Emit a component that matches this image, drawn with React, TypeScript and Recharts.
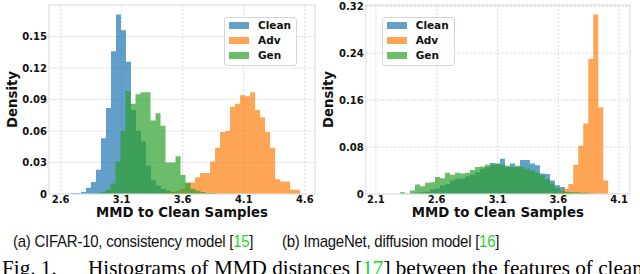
import React from 'react';
import { ComposedChart, Area, XAxis, YAxis, CartesianGrid, Legend, ReferenceArea } from 'recharts';

// ---------- (a) CIFAR-10, consistency model ----------
const cifarBinWidth = 0.041;
const cifarCleanStart = 2.684;
const cifarClean = [0.001, 0.001, 0.002, 0.006, 0.0115, 0.023, 0.053, 0.082, 0.136, 0.171, 0.156, 0.126, 0.08, 0.06, 0.05, 0.027, 0.013, 0.008, 0.005, 0.003, 0.002, 0.001, 0.001];
const cifarAdvStart = 3.414;
const cifarAdv = [0.001, 0.002, 0.002, 0.003, 0.005, 0.01, 0.011, 0.016, 0.02, 0.02, 0.031, 0.044, 0.059, 0.06, 0.083, 0.086, 0.094, 0.093, 0.097, 0.08, 0.073, 0.059, 0.044, 0.014, 0.012, 0.012, 0.004, 0.004];
const cifarGenStart = 2.885;
const cifarGen = [0.001, 0.002, 0.004, 0.01, 0.031, 0.06, 0.098, 0.086, 0.095, 0.097, 0.097, 0.07, 0.077, 0.065, 0.03, 0.03, 0.036, 0.018, 0.011, 0.005, 0.003, 0.002, 0.001, 0.001];
const cifarXTicks = [2.6, 3.1, 3.6, 4.1, 4.6];
const cifarYTicks = [0, 0.03, 0.06, 0.09, 0.12, 0.15];
const cifarXDomain = [2.504, 4.684];
const cifarYMax = 0.18;

// ---------- (b) ImageNet, diffusion model ----------
const imagenetBinWidth = 0.0411;
const imagenetCleanStart = 2.4215;
const imagenetClean = [0.002, 0.003, 0.004, 0.008, 0.01, 0.015, 0.017, 0.023, 0.026, 0.026, 0.03, 0.033, 0.037, 0.043, 0.046, 0.053, 0.052, 0.06, 0.046, 0.052, 0.046, 0.058, 0.058, 0.052, 0.049, 0.035, 0.034, 0.023, 0.015, 0.012, 0.003, 0.001];
const imagenetAdvStart = 3.6;
const imagenetAdv = [0.004, 0.009, 0.017, 0.05, 0.082, 0.12, 0.23, 0.306, 0.148, 0.023, 0.0, 0.001];
const imagenetGenStart = 2.298;
const imagenetGen = [0.003, 0.001, 0.006, 0.016, 0.013, 0.019, 0.02, 0.029, 0.027, 0.036, 0.033, 0.036, 0.035, 0.036, 0.041, 0.046, 0.047, 0.05, 0.049, 0.051, 0.05, 0.048, 0.046, 0.048, 0.046, 0.043, 0.04, 0.036, 0.032, 0.025, 0.018, 0.01, 0.006, 0.004, 0.003, 0.003, 0.002, 0.002, 0.001];
const imagenetXTicks = [2.1, 2.6, 3.1, 3.6, 4.1];
const imagenetYTicks = [0, 0.08, 0.16, 0.24, 0.32];
const imagenetXDomain = [2.016, 4.19];
const imagenetYMax = 0.322;

const seriesKeys = ['clean', 'adv', 'gen'];
const seriesNames = ['Clean', 'Adv', 'Gen'];
const seriesColors = ['#1f77b4', '#ff7f0e', '#2ca02c'];

const xLabel = 'MMD to Clean Samples';
const yLabel = 'Density';

type Hist = { key: string; start: number; width: number; heights: number[] };

function buildTable(series: Hist[]) {
  const map = new Map<number, any>();
  for (const s of series) {
    const n = s.heights.length;
    for (let i = 0; i <= n; i++) {
      const x = +(s.start + i * s.width).toFixed(4);
      const row = map.get(x) ?? { x };
      row[s.key] = s.heights[Math.min(i, n - 1)];
      map.set(x, row);
    }
  }
  return Array.from(map.values()).sort((a, b) => a.x - b.x);
}

const cifarData = buildTable([
  { key: 'clean', start: cifarCleanStart, width: cifarBinWidth, heights: cifarClean },
  { key: 'adv', start: cifarAdvStart, width: cifarBinWidth, heights: cifarAdv },
  { key: 'gen', start: cifarGenStart, width: cifarBinWidth, heights: cifarGen },
]);
const imagenetData = buildTable([
  { key: 'clean', start: imagenetCleanStart, width: imagenetBinWidth, heights: imagenetClean },
  { key: 'adv', start: imagenetAdvStart, width: imagenetBinWidth, heights: imagenetAdv },
  { key: 'gen', start: imagenetGenStart, width: imagenetBinWidth, heights: imagenetGen },
]);

const FONT = 'DejaVu Sans';

function rgba(hex: string, a: number) {
  const r = parseInt(hex.slice(1, 3), 16);
  const g = parseInt(hex.slice(3, 5), 16);
  const b = parseInt(hex.slice(5, 7), 16);
  return `rgba(${r},${g},${b},${a})`;
}

function LegendBox() {
  return (
    <div
      style={{
        border: '1px solid #d6d6d6',
        borderRadius: 3,
        background: 'rgba(255,255,255,0.85)',
        padding: '0px 5px 2px 4px',
        fontFamily: FONT,
        fontWeight: 'bold',
        fontSize: 10.5,
        color: '#111',
        whiteSpace: 'nowrap',
      }}
    >
      {seriesNames.map((name, i) => (
        <div key={name} style={{ display: 'flex', alignItems: 'center', height: 15, lineHeight: '15px' }}>
          <span style={{ display: 'inline-block', flexShrink: 0, width: 20, minWidth: 20, height: 7, background: rgba(seriesColors[i], 0.7), marginRight: 9 }} />
          <span>{name}</span>
        </div>
      ))}
    </div>
  );
}

type PanelProps = {
  data: any[];
  xDomain: number[];
  yMax: number;
  xTicks: number[];
  yTicks: number[];
  marginLeft: number;
  marginRight: number;
  yLabelOffset: number;
  legendLeft: number;
  legendTop: number;
};

function Panel(p: PanelProps) {
  const tickStyle = { fontSize: 10, fontWeight: 'bold', fontFamily: FONT, fill: '#111' };
  return (
    <ComposedChart
      width={320}
      height={225}
      data={p.data}
      margin={{ top: 5, right: p.marginRight, bottom: 1, left: p.marginLeft }}
    >
      <CartesianGrid stroke="#d4d4d4" strokeDasharray="2.5 1.5" strokeWidth={0.8} />
      <XAxis
        type="number"
        dataKey="x"
        domain={p.xDomain}
        allowDataOverflow
        ticks={p.xTicks}
        interval={0}
        tickFormatter={(v: number) => v.toFixed(1)}
        tickLine={false}
        tickSize={0}
        tickMargin={2}
        axisLine={false}
        height={30}
        tick={tickStyle}
        label={{ value: xLabel, position: 'insideBottom', offset: 7, style: { fontSize: 13.3, fontWeight: 'bold', fontFamily: FONT, fill: '#111' } }}
      />
      <YAxis
        type="number"
        domain={[0, p.yMax]}
        allowDataOverflow
        ticks={p.yTicks}
        interval={0}
        tickFormatter={(v: number) => (v === 0 ? '0' : v.toFixed(2))}
        tickLine={false}
        tickSize={0}
        tickMargin={2}
        axisLine={false}
        width={40}
        tick={tickStyle}
        label={{ value: yLabel, angle: -90, position: 'insideLeft', offset: p.yLabelOffset, style: { textAnchor: 'middle', fontSize: 13.3, fontWeight: 'bold', fontFamily: FONT, fill: '#111' } }}
      />
      {seriesKeys.map((k, i) => (
        <Area
          key={k}
          name={seriesNames[i]}
          type="stepAfter"
          dataKey={k}
          stroke="none"
          fill={seriesColors[i]}
          fillOpacity={0.7}
          connectNulls
          dot={false}
          activeDot={false}
          isAnimationActive={false}
        />
      ))}
      <ReferenceArea
        x1={p.xDomain[0]}
        x2={p.xDomain[1]}
        y1={0}
        y2={p.yMax}
        fill="none"
        stroke="#e3e3e3"
        strokeWidth={1}
        ifOverflow="visible"
      />
      <Legend
        layout="horizontal"
        verticalAlign="middle"
        align="center"
        content={() => <LegendBox />}
        wrapperStyle={{ left: p.legendLeft, top: p.legendTop, width: 'auto', height: 'auto' }}
      />
    </ComposedChart>
  );
}

const captionStyle: React.CSSProperties = {
  position: 'absolute',
  fontFamily: 'Liberation Sans',
  fontSize: 15,
  letterSpacing: -0.25,
  lineHeight: '15px',
  color: '#111',
  whiteSpace: 'nowrap',
  transform: 'scaleY(1.12)',
  transformOrigin: '0 0',
};

const figStyle: React.CSSProperties = {
  position: 'absolute',
  top: 257,
  fontFamily: 'Liberation Serif',
  fontSize: 21.2,
  lineHeight: '22px',
  color: '#000',
  whiteSpace: 'nowrap',
};

const GREEN = '#1fd41f';

export default function App() {
  return (
    <div style={{ position: 'absolute', left: 0, top: 0, width: 640, height: 274, overflow: 'hidden', background: '#fff' }}>
      <div style={{ position: 'absolute', left: 0, top: 0 }}>
        <Panel
          data={cifarData}
          xDomain={cifarXDomain}
          yMax={cifarYMax}
          xTicks={cifarXTicks}
          yTicks={cifarYTicks}
          marginLeft={9}
          marginRight={5}
          yLabelOffset={3.5}
          legendLeft={224}
          legendTop={17}
        />
      </div>
      <div style={{ position: 'absolute', left: 320, top: 0 }}>
        <Panel
          data={imagenetData}
          xDomain={imagenetXDomain}
          yMax={imagenetYMax}
          xTicks={imagenetXTicks}
          yTicks={imagenetYTicks}
          marginLeft={5.7}
          marginRight={10}
          yLabelOffset={2.6}
          legendLeft={61.7}
          legendTop={17}
        />
      </div>
      <div style={{ ...captionStyle, left: 13, top: 232 }}>
        (a) CIFAR-10, consistency model [<span style={{ color: GREEN }}>15</span>]
      </div>
      <div style={{ ...captionStyle, left: 282, top: 232 }}>
        (b) ImageNet, diffusion model [<span style={{ color: GREEN }}>16</span>]
      </div>
      <div style={{ ...figStyle, left: 2 }}>Fig. 1.</div>
      <div style={{ ...figStyle, left: 88 }}>
        Histograms of MMD distances [<span style={{ color: GREEN }}>17</span>] between the features of clean
      </div>
    </div>
  );
}
